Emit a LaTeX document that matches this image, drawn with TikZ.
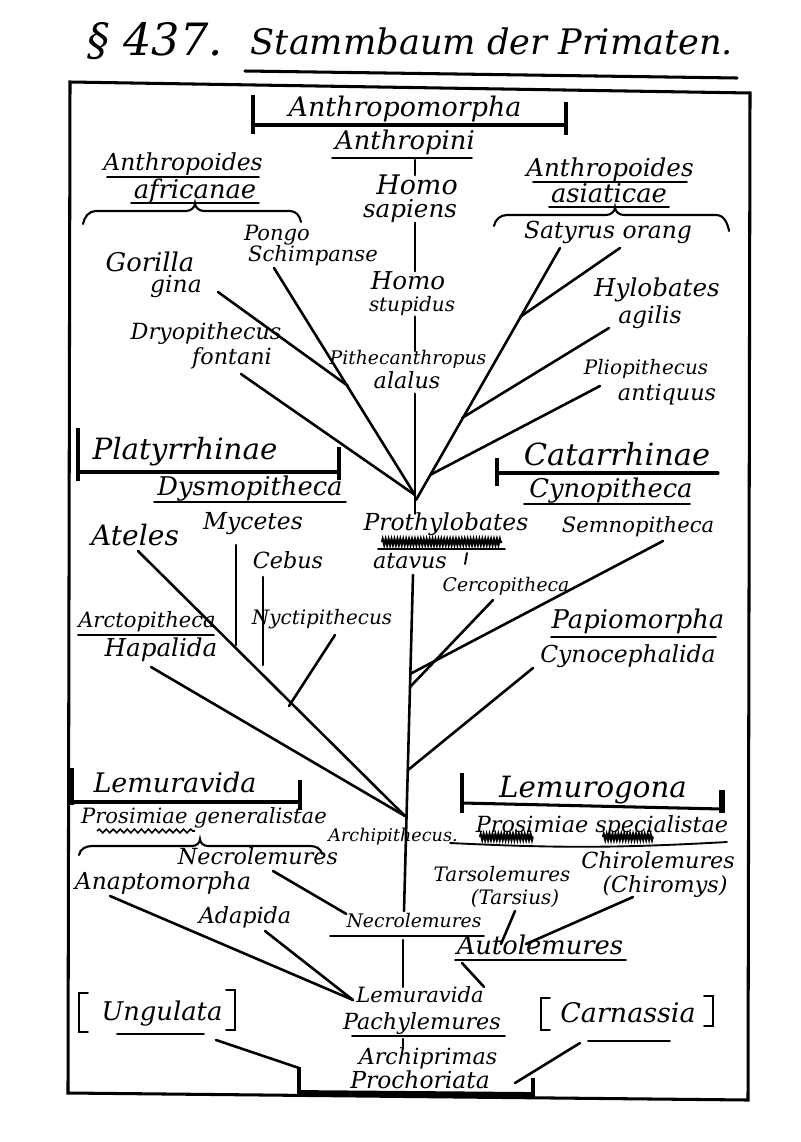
\documentclass[tikz,border=0pt]{standalone}
\usepackage{fontspec}
\setmainfont{DejaVu Serif}
\usetikzlibrary{decorations.pathmorphing}

\begin{document}
\begin{tikzpicture}[x=0.03cm, y=-0.03cm,
    lab/.style={font=\itshape\fontsize{#1}{#1}\selectfont, inner sep=0pt,
                text height=#1*0.72pt, text depth=#1*0.22pt},
    lab/.default=20,
    branch/.style={line width=2.2pt, line cap=round},
    uline/.style={line width=1.6pt, line cap=round},
    bar/.style={line width=2.6pt, line cap=round},
    tick/.style={line width=3.2pt},
    brace/.style={line width=1.8pt, line cap=round},
    scribble/.style={line width=1.8pt, decorate, decoration={zigzag, segment length=2.5pt, amplitude=2.5pt}},
    wavy/.style={line width=1.3pt, decorate, decoration={snake, segment length=6pt, amplitude=1.6pt}}]

    \useasboundingbox (0,0) rectangle (800,1142);

    % Title
    \node[lab=38] (para) at (155,44) {\S\ 437.};
    \node[lab=30] (title) at (492,46) {Stammbaum der Primaten.};
    \draw[bar] (245,71) -- (737,78);

    % Frame
    \draw[bar, line cap=butt] (70,82) -- (750,93) -- (748,1100) -- (68,1093) -- cycle;

    % --- ANTHROPOMORPHA ---
    \node[lab=23] (anthropomorpha) at (405,110) {Anthropomorpha};
    \draw[bar] (253,125) -- (566,125);
    \draw[tick] (253,95) -- (253,134);
    \draw[tick] (566,102) -- (566,135);
    \node[lab=22] (anthropini) at (405,143) {Anthropini};
    \draw[uline] (332,158) -- (472,158);
    \coordinate (axis) at (415,160);

    % Anthropoides africanae
    \node[lab=20] (afr1) at (183,165) {Anthropoides};
    \draw[uline] (107,177) -- (259,177);
    \node[lab=22] (afr2) at (195,192) {africanae};
    \draw[uline] (131,203) -- (259,203);
    \draw[brace] (83,224) to[out=80,in=180] (96,211) -- (186,211)
        to[out=0,in=-90] (195,203) to[out=-90,in=180] (204,211) -- (290,211) to[out=0,in=100] (301,222);

    % Anthropoides asiaticae
    \node[lab=21] (asi1) at (610,170) {Anthropoides};
    \draw[uline] (533,182) -- (687,182);
    \node[lab=22] (asi2) at (609,196) {asiaticae};
    \draw[uline] (549,207) -- (669,207);
    \draw[brace] (494,226) to[out=80,in=180] (507,215) -- (606,215)
        to[out=0,in=-90] (615,207) to[out=-90,in=180] (624,215) -- (716,215) to[out=0,in=100] (729,231);

    % Homo line
    \node[lab=23] (hsap1) at (417,188) {Homo};
    \node[lab=21] (hsap2) at (410,211) {sapiens};
    \node[lab=21] (hstu1) at (408,283) {Homo};
    \node[lab=17] (hstu2) at (412,307) {stupidus};
    \node[lab=16] (pith1) at (408,360) {Pithecanthropus};
    \node[lab=19] (pith2) at (407,383) {alalus};
    \draw[branch] (axis) -- (hsap1.north -| axis);
    \draw[branch] (hsap2.south -| axis) -- (hstu1.north -| axis);
    \draw[branch] (hstu2.south -| axis) -- (pith1.north -| axis);

    % African and Asiatic apes
    \node[lab=22] (gorilla1) at (150,265) {Gorilla};
    \node[lab=20] (gorilla2) at (176,287) {gina};
    \node[lab=18] (pongo1) at (277,235) {Pongo};
    \node[lab=18] (pongo2) at (313,256) {Schimpanse};
    \node[lab=19] (dryo1) at (206,334) {Dryopithecus};
    \node[lab=19] (dryo2) at (232,359) {fontani};
    \node[lab=20] (satyrus) at (608,233) {Satyrus orang};
    \node[lab=21] (hylo1) at (657,290) {Hylobates};
    \node[lab=20] (hylo2) at (650,318) {agilis};
    \node[lab=17] (plio1) at (646,370) {Pliopithecus};
    \node[lab=19] (plio2) at (667,395) {antiquus};

    \coordinate (gorilla-end) at (218,292);
    \coordinate (pongo-end) at (274,268);
    \coordinate (dryo-end) at (241,374);
    \coordinate (satyrus-end) at (560,248);
    \coordinate (orang-end) at (620,248);
    \coordinate (hylo-end) at (609,328);
    \coordinate (plio-end) at (600,386);
    \coordinate (gj) at (348,386);
    \coordinate (jtop) at (415,495);
    \coordinate (jright) at (416,500);
    \coordinate (oj) at (520,317);
    \coordinate (hj) at (462,418);
    \coordinate (pj) at (430,475);

    \draw[branch] (pongo-end) -- (jtop);
    \draw[branch] (gorilla-end) -- (gj);
    \draw[branch] (dryo-end) -- (jtop);
    \draw[branch] (pith2.south -| axis) -- (jtop);
    \draw[branch] (satyrus-end) -- (jright);
    \draw[branch] (orang-end) -- (oj);
    \draw[branch] (hylo-end) -- (hj);
    \draw[branch] (plio-end) -- (pj);

    % --- PLATYRRHINAE / CATARRHINAE ---
    \node[lab=25] (platyrrhinae) at (185,452) {Platyrrhinae};
    \draw[bar] (78,472) -- (339,472);
    \draw[tick] (78,428) -- (78,481);
    \draw[tick] (339,447) -- (339,480);
    \node[lab=22] (dysmo) at (250,489) {Dysmopitheca};
    \draw[uline] (154,502) -- (346,502);

    \node[lab=26] (catarrhinae) at (617,458) {Catarrhinae};
    \draw[bar] (497,473) -- (718,473);
    \draw[tick] (497,458) -- (497,486);
    \node[lab=22] (cynopith) at (611,491) {Cynopitheca};
    \draw[uline] (524,504) -- (690,504);

    \node[lab=20] (prothylo) at (446,525) {Prothylobates};
    \draw[scribble] (382,542) -- (502,542);
    \draw[uline] (378,549) -- (505,549);
    \node[lab=19] (atavus) at (410,563) {atavus};
    \draw[uline] (467,553) -- (465,564);
    \draw[branch] (jtop) -- (prothylo.north -| jtop);

    \node[lab=24] (ateles) at (135,538) {Ateles};
    \node[lab=20] (mycetes) at (253,524) {Mycetes};
    \node[lab=19] (cebus) at (288,563) {Cebus};
    \node[lab=17] (nycti) at (322,620) {Nyctipithecus};
    \node[lab=18] (arcto1) at (147,622) {Arctopitheca};
    \draw[uline] (78,635) -- (214,635);
    \node[lab=21] (arcto2) at (161,650) {Hapalida};

    \node[lab=18] (semno) at (638,527) {Semnopitheca};
    \node[lab=16] (cerco) at (506,587) {Cercopitheca};
    \node[lab=22] (papio) at (638,622) {Papiomorpha};
    \draw[uline] (551,637) -- (716,637);
    \node[lab=20] (cynoceph) at (628,657) {Cynocephalida};

    \coordinate (ateles-end) at (138,551);
    \coordinate (arcto-end) at (151,667);
    \coordinate (mycetes-end) at (236,645);
    \coordinate (cebus-end) at (263,665);
    \coordinate (nycti-end) at (335,635);
    \coordinate (semno-end) at (663,541);
    \coordinate (cerco-end) at (493,600);
    \coordinate (cynoceph-end) at (533,668);
    \coordinate (aj) at (405,816);
    \coordinate (nj) at (289,706);
    \coordinate (sj) at (410,674);
    \coordinate (cj) at (410,687);
    \coordinate (yj) at (408,770);
    \coordinate (trunktop) at (413,575);
    \coordinate (trunkbot) at (404,911);

    \draw[branch] (trunktop) -- (trunkbot);
    \draw[branch] (ateles-end) -- (aj);
    \draw[branch] (arcto-end) -- (aj);
    \draw[branch] (236,545) -- (mycetes-end);
    \draw[branch] (263,577) -- (cebus-end);
    \draw[branch] (nycti-end) -- (nj);
    \draw[branch] (semno-end) -- (sj);
    \draw[branch] (cerco-end) -- (cj);
    \draw[branch] (cynoceph-end) -- (yj);

    % --- LEMURAVIDA / LEMUROGONA ---
    \node[lab=23] (lemuravida) at (175,786) {Lemuravida};
    \draw[bar] (72,802) -- (300,802);
    \draw[tick] (72,768) -- (72,805);
    \draw[tick] (300,780) -- (300,810);
    \node[lab=18] (generalis) at (204,818) {Prosimiae generalistae};
    \draw[wavy] (97,831) -- (195,831);
    \draw[brace] (79,855) to[out=80,in=180] (92,846) -- (192,846)
        to[out=0,in=-90] (200,839) to[out=-90,in=180] (208,846) -- (310,846) to[out=0,in=100] (322,854);
    \node[lab=15] (archi) at (393,837) {Archipithecus.};

    \node[lab=25] (lemurogona) at (593,790) {Lemurogona};
    \draw[bar] (462,803) -- (722,809);
    \draw[tick] (462,773) -- (462,813);
    \draw[tick, line width=4.5pt] (722,790) -- (722,813);
    \node[lab=19] (specialis) at (602,827) {Prosimiae specialistae};
    \draw[scribble] (480,837) -- (533,837);
    \draw[scribble] (603,837) -- (653,837);
    \draw[uline] (450,843) to[bend right=3] (727,842);

    \node[lab=19] (necro1) at (258,859) {Necrolemures};
    \node[lab=20] (anapto) at (163,884) {Anaptomorpha};
    \node[lab=19] (adapida) at (245,918) {Adapida};
    \node[lab=16] (necro2) at (414,923) {Necrolemures};
    \draw[uline] (330,936) -- (484,936);
    \node[lab=17] (tarso1) at (502,877) {Tarsolemures};
    \node[lab=17] (tarso2) at (515,900) {(Tarsius)};
    \node[lab=19] (chiro1) at (658,863) {Chirolemures};
    \node[lab=19] (chiro2) at (665,887) {(Chiromys)};
    \node[lab=22] (auto) at (540,948) {Autolemures};
    \draw[uline] (455,960) -- (626,960);

    \coordinate (necro1-end) at (273,871);
    \coordinate (anapto-end) at (110,896);
    \coordinate (adapida-end) at (265,931);
    \coordinate (tarso-end) at (515,911);
    \coordinate (chiro-end) at (633,897);
    \coordinate (auto-end) at (462,963);
    \coordinate (lj) at (353,1000);

    \draw[branch] (necro1-end) -- (necro2.north west);
    \draw[branch] (tarso-end) -- (501,944);
    \draw[branch] (chiro-end) -- (526,944);

    % --- ROOT ---
    \node[lab=18] (lemuravida2) at (420,997) {Lemuravida};
    \node[lab=19] (pachy) at (422,1024) {Pachylemures};
    \draw[uline] (352,1036) -- (505,1036);
    \node[lab=19] (archiprimas) at (428,1059) {Archiprimas};
    \node[lab=20] (prochoriata) at (420,1083) {Prochoriata};

    \draw[branch] (anapto-end) -- (lj);
    \draw[branch] (adapida-end) -- (lj);
    \draw[branch] (auto-end) -- (lemuravida2.north east);
    \draw[branch] (403,940) -- (lemuravida2.north -| 403,0);
    \draw[branch] (403,1039) -- (archiprimas.north -| 403,0);

    \node[lab=22] (ungulata) at (162,1014) {Ungulata};
    \draw[uline] (88,993) -- (79,993) -- (79,1032) -- (88,1032);
    \draw[uline] (226,990) -- (235,990) -- (235,1030) -- (226,1030);
    \draw[uline] (117,1034) -- (204,1034);
    \node[lab=23] (carnassia) at (628,1016) {Carnassia};
    \draw[uline] (550,998) -- (541,998) -- (541,1030) -- (550,1030);
    \draw[uline] (704,996) -- (713,996) -- (713,1026) -- (704,1026);
    \draw[uline] (588,1041) -- (670,1041);

    \coordinate (ungulata-end) at (216,1040);
    \coordinate (carnassia-end) at (580,1043);
    \coordinate (baseL) at (299,1068);
    \coordinate (baseR) at (515,1083);
    \draw[branch] (ungulata-end) -- (baseL);
    \draw[branch] (carnassia-end) -- (baseR);

    \draw[line width=5pt] (299,1093) -- (533,1095);
    \draw[tick, line width=4pt] (299,1067) -- (299,1096);
    \draw[tick, line width=4pt] (533,1078) -- (533,1097);

\end{tikzpicture}
\end{document}
